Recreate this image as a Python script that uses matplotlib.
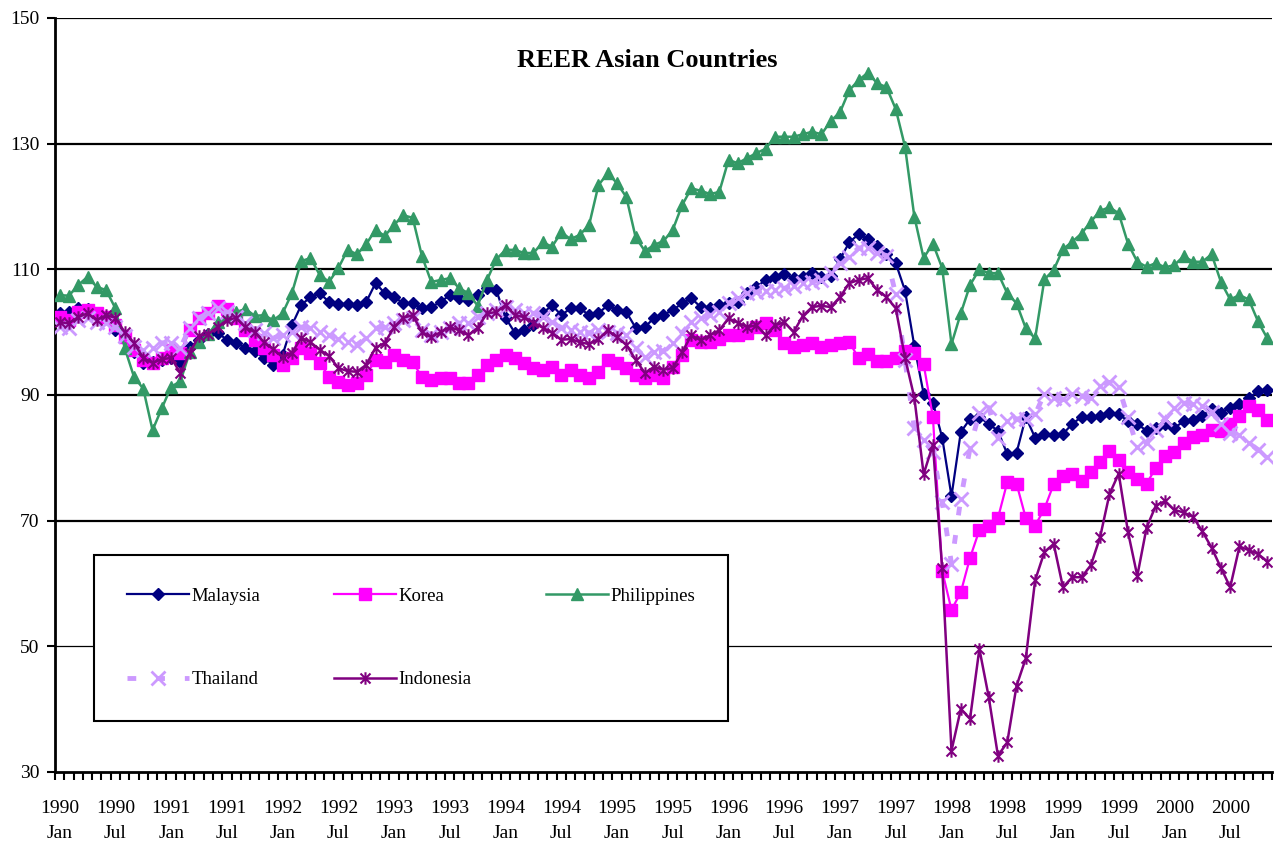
import numpy as np
import matplotlib
matplotlib.use("Agg")
import matplotlib.pyplot as plt
from matplotlib.path import Path

plt.rcParams['font.family'] = ['Liberation Serif', 'DejaVu Serif']

# monthly REER index, 1990 Jan .. 2000 Nov (one row per year)
malaysia = [
    103.0, 103.2, 103.8, 103.7, 103.0, 102.4, 100.3, 99.1, 96.8, 95.1, 95.2, 95.6,
    95.9, 95.3, 97.6, 98.7, 99.7, 99.9, 98.8, 98.3, 97.5, 97.0, 95.9, 94.8,
    96.4, 101.1, 104.3, 105.6, 106.2, 104.8, 104.5, 104.5, 104.3, 104.8, 107.8, 106.2,
    105.6, 104.6, 104.6, 103.8, 104.0, 104.8, 105.9, 105.5, 105.1, 105.9, 107.0, 106.7,
    102.3, 99.9, 100.3, 101.1, 103.0, 104.3, 102.7, 103.8, 103.8, 102.7, 103.0, 104.3,
    103.5, 103.2, 100.7, 100.8, 102.3, 102.8, 103.5, 104.6, 105.4, 104.0, 103.8, 104.3,
    104.6, 104.8, 106.2, 107.2, 108.3, 108.8, 109.3, 108.6, 108.8, 109.4, 108.8, 108.9,
    111.6, 114.3, 115.6, 114.8, 113.7, 112.4, 111.0, 106.6, 97.8, 90.2, 88.8, 83.2,
    73.9, 84.1, 86.2, 86.5, 85.4, 84.3, 80.6, 80.8, 86.5, 83.2, 83.8, 83.6,
    83.8, 85.4, 86.5, 86.5, 86.7, 87.2, 87.0, 85.8, 85.4, 84.3, 84.8, 85.4,
    84.8, 85.8, 86.0, 86.7, 87.8, 87.2, 88.0, 88.5, 89.5, 90.6, 90.8,
]
korea = [
    102.4, 101.9, 103.2, 103.5, 103.0, 102.4, 101.1, 99.2, 97.2, 95.6, 95.1, 95.9,
    97.2, 96.7, 100.3, 102.3, 103.0, 104.2, 103.7, 102.3, 100.3, 98.8, 97.5, 96.4,
    94.8, 95.9, 97.5, 96.7, 95.1, 92.9, 92.1, 91.6, 91.9, 93.2, 95.6, 95.2,
    96.4, 95.6, 95.2, 92.9, 92.4, 92.7, 92.7, 91.9, 91.9, 93.2, 94.8, 95.6,
    96.4, 95.9, 95.1, 94.3, 94.0, 94.5, 93.2, 94.0, 93.2, 92.7, 93.7, 95.6,
    95.1, 94.3, 93.2, 92.7, 93.2, 92.7, 94.5, 96.4, 98.8, 98.4, 98.4, 98.9,
    99.6, 99.6, 99.9, 100.8, 101.5, 100.3, 98.3, 97.6, 98.0, 98.3, 97.6, 98.0,
    98.3, 98.4, 95.9, 96.6, 95.4, 95.4, 95.9, 97.0, 96.7, 94.9, 86.5, 62.0,
    55.8, 58.6, 64.1, 68.5, 69.2, 70.4, 76.1, 75.9, 70.4, 69.2, 71.9, 75.8,
    77.1, 77.4, 76.3, 77.8, 79.3, 81.1, 79.6, 77.8, 76.6, 75.9, 78.4, 80.3,
    80.9, 82.4, 83.3, 83.6, 84.5, 84.3, 85.4, 86.7, 88.3, 87.6, 86.0,
]
philippines = [
    105.9, 105.8, 107.5, 108.8, 107.2, 106.7, 103.8, 97.5, 92.9, 91.0, 84.4, 87.9,
    91.3, 92.2, 96.8, 98.4, 99.7, 101.6, 102.6, 103.2, 103.7, 102.6, 102.7, 101.9,
    103.0, 106.2, 111.3, 111.8, 109.1, 108.0, 110.2, 113.1, 112.4, 114.0, 116.3, 115.3,
    117.1, 118.6, 118.2, 112.1, 108.0, 108.3, 108.6, 107.0, 106.2, 104.2, 108.3, 111.6,
    113.1, 113.1, 112.6, 112.6, 114.3, 113.6, 115.9, 114.8, 115.5, 117.1, 123.4, 125.3,
    123.7, 121.5, 115.1, 112.9, 113.9, 114.5, 116.3, 120.2, 122.9, 122.5, 122.0, 122.3,
    127.4, 126.9, 127.7, 128.5, 129.2, 131.1, 131.1, 131.1, 131.5, 131.9, 131.5, 133.6,
    135.0, 138.5, 140.1, 141.3, 139.6, 139.0, 135.5, 129.5, 118.4, 111.8, 114.1, 110.2,
    98.1, 103.0, 107.5, 110.0, 109.4, 109.4, 106.2, 104.6, 100.6, 99.0, 108.4, 109.9,
    113.2, 114.4, 115.7, 117.6, 119.3, 119.9, 118.9, 114.1, 111.2, 110.4, 111.0, 110.3,
    110.7, 112.1, 111.2, 111.2, 112.4, 108.0, 105.2, 105.9, 105.2, 101.7, 99.0,
]
thailand = [
    100.8, 100.7, 101.9, 102.3, 101.6, 101.4, 100.8, 99.4, 97.6, 97.2, 97.5, 98.3,
    98.3, 97.5, 100.7, 102.3, 103.0, 103.8, 103.2, 102.4, 101.4, 100.4, 99.8, 99.1,
    99.5, 100.0, 100.8, 100.7, 100.0, 99.5, 98.9, 98.4, 98.0, 99.1, 100.7, 100.8,
    101.4, 101.9, 102.3, 100.3, 99.5, 100.0, 100.7, 101.5, 101.4, 102.4, 103.0, 103.5,
    104.0, 103.5, 103.0, 103.0, 102.4, 101.6, 100.7, 100.3, 100.0, 99.9, 100.3, 100.0,
    99.9, 99.5, 97.5, 96.0, 96.8, 97.0, 98.3, 99.9, 101.6, 102.3, 102.7, 103.2,
    104.6, 105.4, 106.2, 106.4, 106.6, 106.7, 107.0, 107.3, 107.8, 108.0, 108.3, 109.4,
    111.0, 112.0, 113.4, 113.4, 112.6, 112.2, 106.0, 95.5, 84.7, 82.8, 80.9, 73.0,
    63.1, 73.5, 81.6, 87.2, 88.0, 83.2, 85.8, 86.2, 86.2, 86.9, 90.2, 89.5,
    89.3, 90.2, 89.9, 89.5, 91.4, 92.0, 91.2, 86.5, 81.7, 82.4, 84.5, 86.2,
    88.0, 88.7, 88.6, 88.2, 87.3, 85.4, 83.9, 83.6, 82.4, 81.3, 80.2,
]
indonesia = [
    101.6, 101.4, 102.4, 103.0, 101.9, 102.7, 102.3, 100.0, 98.3, 95.9, 95.1, 95.7,
    95.9, 93.5, 96.7, 99.4, 99.7, 100.8, 101.9, 102.3, 100.8, 100.0, 98.4, 97.3,
    96.0, 96.7, 99.1, 98.4, 97.2, 96.2, 94.3, 93.8, 93.7, 94.8, 97.5, 98.3,
    100.8, 102.3, 102.7, 100.0, 99.2, 100.0, 100.8, 100.3, 99.5, 100.7, 103.0, 103.2,
    104.3, 102.7, 102.4, 101.5, 100.7, 99.9, 98.8, 98.9, 98.4, 98.1, 98.9, 100.3,
    99.2, 98.0, 95.6, 93.5, 94.5, 94.0, 94.3, 96.8, 99.5, 98.7, 99.5, 100.3,
    102.2, 101.5, 100.8, 101.1, 99.5, 101.1, 101.6, 100.0, 102.6, 104.0, 104.2, 104.0,
    105.6, 107.8, 108.3, 108.6, 106.7, 105.6, 103.8, 95.9, 89.6, 77.4, 82.1, 62.4,
    33.4, 40.0, 38.5, 49.6, 42.0, 32.6, 34.7, 43.7, 48.1, 60.5, 65.0, 66.3,
    59.4, 61.0, 61.0, 62.9, 67.4, 74.2, 77.5, 68.2, 61.2, 68.9, 72.4, 73.1,
    71.7, 71.3, 70.6, 68.3, 65.7, 62.5, 59.4, 65.9, 65.3, 64.7, 63.5,
]

tick_labels = [
    '1990\nJan', '1990\nJul', '1991\nJan', '1991\nJul', '1992\nJan', '1992\nJul',
    '1993\nJan', '1993\nJul', '1994\nJan', '1994\nJul', '1995\nJan', '1995\nJul',
    '1996\nJan', '1996\nJul', '1997\nJan', '1997\nJul', '1998\nJan', '1998\nJul',
    '1999\nJan', '1999\nJul', '2000\nJan', '2000\nJul',
]

n = len(malaysia)
x = np.arange(n)

# excel style "star" marker: x plus a vertical bar
star = Path([(0, -1), (0, 1), (-0.8, -0.8), (0.8, 0.8), (-0.8, 0.8), (0.8, -0.8)],
            [Path.MOVETO, Path.LINETO] * 3)

fig = plt.figure(figsize=(12.75, 8.42), dpi=100)
ax = fig.add_axes([55 / 1275, 1 - 772 / 842, 1217 / 1275, 754 / 842])

# gridlines (the one at 50 is drawn thinner in the original)
for v in [70, 90, 110, 130, 150]:
    ax.axhline(v, color='black', lw=1.6, zorder=1)
ax.axhline(50, color='black', lw=0.9, zorder=1)

l_my, = ax.plot(x, malaysia, color='#000080', lw=1.6, marker='D', ms=6.5,
                label='Malaysia', zorder=3)
l_kr, = ax.plot(x, korea, color='#FF00FF', lw=1.6, marker='s', ms=8,
                label='Korea', zorder=4)
l_ph, = ax.plot(x, philippines, color='#339966', lw=1.8, marker='^', ms=8,
                label='Philippines', zorder=5)
l_th, = ax.plot(x, thailand, color='#CC99FF', lw=3.5, dashes=(1.8, 4.1),
                marker='x', ms=10, mew=2, label='Thailand', zorder=6)
l_id, = ax.plot(x, indonesia, color='#800080', lw=1.8, marker=star, ms=9, mew=1.5,
                label='Indonesia', zorder=7)

ax.set_xlim(-0.5, n - 0.5)
ax.set_ylim(30, 150)

# category axis: tick marks between months, labels every 6 months
ax.set_xticks(np.arange(-0.5, n, 1.0))
ax.set_xticklabels([])
ax.set_xticks(np.arange(0, n, 6), minor=True)
ax.set_xticklabels(tick_labels, minor=True, fontsize=14, linespacing=1.6)
ax.tick_params(axis='x', which='major', direction='out', length=6, width=1.5)
ax.tick_params(axis='x', which='minor', length=0, pad=20)

ax.set_yticks([30, 50, 70, 90, 110, 130, 150])
ax.tick_params(axis='y', direction='out', length=6, width=1.5, labelsize=14, pad=5)

for side in ['top', 'right']:
    ax.spines[side].set_visible(False)
ax.spines['left'].set_linewidth(2)
ax.spines['bottom'].set_linewidth(2)

ax.text(0.487, 0.944, 'REER Asian Countries', transform=ax.transAxes,
        ha='center', va='center', fontsize=19, fontweight='bold')

leg = ax.legend([l_my, l_th, l_kr, l_id, l_ph],
                ['Malaysia', 'Thailand', 'Korea', 'Indonesia', 'Philippines'],
                ncol=3, loc='lower left', bbox_to_anchor=(0.032, 0.0676, 0.521, 0.2215),
                mode='expand', borderaxespad=0, fontsize=13.5, frameon=True,
                fancybox=False, edgecolor='black', framealpha=1,
                handlelength=3.3, handletextpad=0.15, labelspacing=3.55,
                borderpad=1.75, columnspacing=2.0)
leg.get_frame().set_linewidth(1.5)
leg.set_zorder(10)

fig.savefig('out.png', dpi=100)
